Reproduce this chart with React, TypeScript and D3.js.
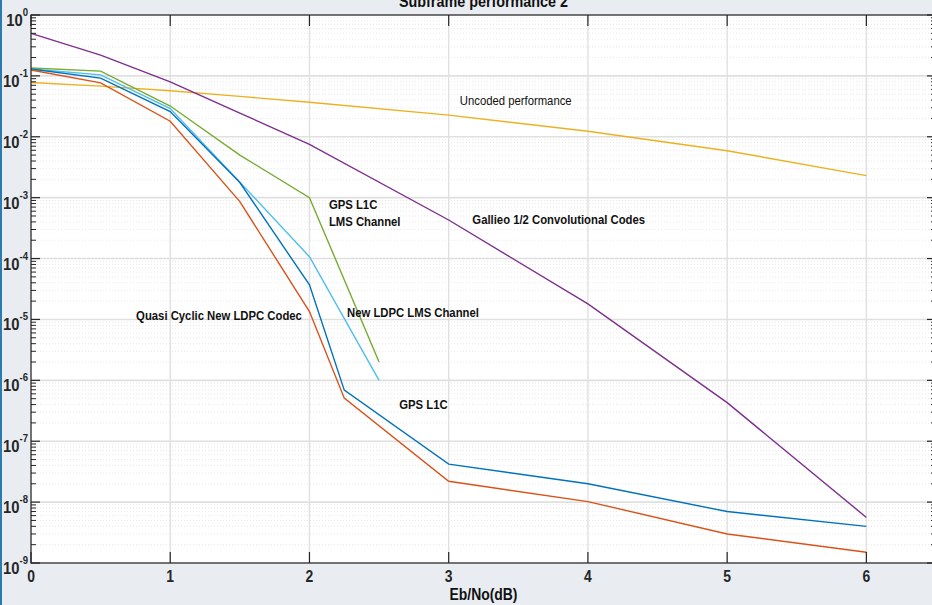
import React from "react";
import * as d3 from "d3";

// Eb/No (dB) sample points
const ebNo = [0, 0.5, 1, 1.5, 2, 2.25, 3, 4, 5, 6];
const ebNoLms = [0, 0.5, 1, 1.5, 2, 2.5];
const ebNoRef = [0, 0.5, 1, 1.5, 2, 3, 4, 5, 6];

// bit error rates
const quasiCyclic = [0.125, 0.077, 0.018, 8.6e-4, 1.35e-5, 5.1e-7, 2.2e-8, 1.02e-8, 3e-9, 1.5e-9];
const gpsL1C = [0.13, 0.092, 0.026, 1.77e-3, 3.7e-5, 6.9e-7, 4.2e-8, 2e-8, 7e-9, 4e-9];
const newLdpcLms = [0.13, 0.104, 0.029, 1.8e-3, 1.07e-4, 1e-6];
const gpsL1CLms = [0.135, 0.12, 0.032, 5e-3, 1e-3, 2e-6];
const galileo = [0.5, 0.22, 0.08, 0.0245, 7.5e-3, 4.3e-4, 1.8e-5, 4.3e-7, 5.6e-9];
const uncoded = [0.078, 0.068, 0.057, 0.046, 0.037, 0.0227, 0.0123, 5.9e-3, 2.3e-3];

const xTicks = [0, 1, 2, 3, 4, 5, 6];
const yExponents = [0, -1, -2, -3, -4, -5, -6, -7, -8, -9];

const series = [
  { x: ebNoRef, y: uncoded, color: "#EDB120" },
  { x: ebNoRef, y: galileo, color: "#7E2F8E" },
  { x: ebNoLms, y: gpsL1CLms, color: "#77AC30" },
  { x: ebNoLms, y: newLdpcLms, color: "#4DBEEE" },
  { x: ebNo, y: gpsL1C, color: "#0072BD" },
  { x: ebNo, y: quasiCyclic, color: "#D95319" },
];

// text annotations in data coordinates (like matlab text())
const notes = [
  { x: 3.08, y: 0.033, lines: ["Uncoded performance"], bold: false },
  { x: 2.14, y: 6.5e-4, lines: ["GPS L1C", "LMS Channel"], bold: true },
  { x: 3.17, y: 3.7e-4, lines: ["Gallieo 1/2 Convolutional Codes"], bold: true },
  { x: 0.755, y: 9.8e-6, lines: ["Quasi Cyclic New LDPC Codec"], bold: true },
  { x: 2.27, y: 1.1e-5, lines: ["New LDPC LMS Channel"], bold: true },
  { x: 2.645, y: 3.4e-7, lines: ["GPS L1C"], bold: true },
];

const W = 932, H = 605;
const left = 31, right = 936, top = 15, bottom = 563;
const font = "'Liberation Sans', Arial, Helvetica, sans-serif";
const sx = 0.87; // text looks horizontally condensed

export default function App() {
  const x = d3.scaleLinear().domain([0, 6.5]).range([left, right]);
  const y = d3.scaleLog().domain([1e-9, 1]).range([bottom, top]);

  const line = d3.line<[number, number]>()
    .x(d => x(d[0]))
    .y(d => y(d[1]));

  const minors: number[] = [];
  yExponents.slice(0, -1).forEach(e => {
    for (let k = 2; k <= 9; k++) minors.push(k * Math.pow(10, e - 1));
  });

  return (
    <svg width={W} height={H} style={{ position: "absolute", left: 0, top: 0, display: "block" }}>
      <rect x={0} y={0} width={W} height={H} fill="#e9edf1" />
      <rect x={0} y={0} width={2} height={H} fill="#2c7bb0" />
      <rect x={left} y={top} width={right - left} height={bottom - top} fill="#fff" />

      {/* minor grid */}
      {minors.map((v, i) => (
        <line key={"m" + i} x1={left} x2={right} y1={y(v)} y2={y(v)}
          stroke="#e2e2e2" strokeWidth={0.8} strokeDasharray="1,2" />
      ))}
      {/* major grid */}
      {yExponents.map(e => (
        <line key={"g" + e} x1={left} x2={right} y1={y(Math.pow(10, e))} y2={y(Math.pow(10, e))}
          stroke="#e0e0e0" strokeWidth={1.6} />
      ))}
      {xTicks.map(t => (
        <line key={"v" + t} x1={x(t)} x2={x(t)} y1={top} y2={bottom}
          stroke="#e0e0e0" strokeWidth={1.4} />
      ))}

      {/* curves */}
      {series.map((s, i) => (
        <path key={"s" + i} d={line(s.x.map((v, j) => [v, s.y[j]] as [number, number])) || ""}
          fill="none" stroke={s.color} strokeWidth={1.4} />
      ))}

      {/* axes box */}
      <rect x={left} y={top} width={right - left} height={bottom - top} fill="none" stroke="#262626" strokeWidth={1.2} />
      {xTicks.map(t => (
        <g key={"xt" + t}>
          <line x1={x(t)} x2={x(t)} y1={bottom} y2={bottom - 11} stroke="#262626" strokeWidth={1.2} />
          <line x1={x(t)} x2={x(t)} y1={top} y2={top + 11} stroke="#262626" strokeWidth={1.2} />
          <text transform={`translate(${x(t)},${bottom + 19}) scale(${sx},1)`} textAnchor="middle"
            fontFamily={font} fontWeight="bold" fontSize={16} fill="#262626">{t}</text>
        </g>
      ))}
      {yExponents.map(e => (
        <g key={"yt" + e}>
          <line x1={left} x2={left + 9} y1={y(Math.pow(10, e))} y2={y(Math.pow(10, e))} stroke="#262626" strokeWidth={1.2} />
          <line x1={right} x2={right - 9} y1={y(Math.pow(10, e))} y2={y(Math.pow(10, e))} stroke="#262626" strokeWidth={1.2} />
          <text transform={`translate(${left - 3},${y(Math.pow(10, e)) + 11}) scale(${sx},1)`} textAnchor="end"
            fontFamily={font} fontWeight="bold" fill="#262626">
            <tspan fontSize={17}>10</tspan>
            <tspan fontSize={11} dy={-10}>{e}</tspan>
          </text>
        </g>
      ))}
      {minors.map((v, i) => (
        <g key={"mt" + i}>
          <line x1={left} x2={left + 5} y1={y(v)} y2={y(v)} stroke="#262626" strokeWidth={1} />
          <line x1={right} x2={right - 5} y1={y(v)} y2={y(v)} stroke="#262626" strokeWidth={1} />
        </g>
      ))}

      {/* annotations */}
      {notes.map((n, i) => (
        <text key={"n" + i} transform={`translate(${x(n.x)},${y(n.y)}) scale(${sx},1)`}
          fontFamily={font} fontWeight={n.bold ? "bold" : "normal"} fontSize={13} fill="#111">
          {n.lines.map((l, j) => (
            <tspan key={j} x={0} dy={j === 0 ? 0 : 17}>{l}</tspan>
          ))}
        </text>
      ))}

      {/* title (clipped at the top in the original) and x label */}
      <text transform={`translate(${(left + right) / 2},7) scale(${sx},1)`} textAnchor="middle"
        fontFamily={font} fontWeight="bold" fontSize={16.5} fill="#111">Subframe performance 2</text>
      <text transform={`translate(${(left + right) / 2},600) scale(${sx},1)`} textAnchor="middle"
        fontFamily={font} fontWeight="bold" fontSize={16} fill="#111">Eb/No(dB)</text>
    </svg>
  );
}
